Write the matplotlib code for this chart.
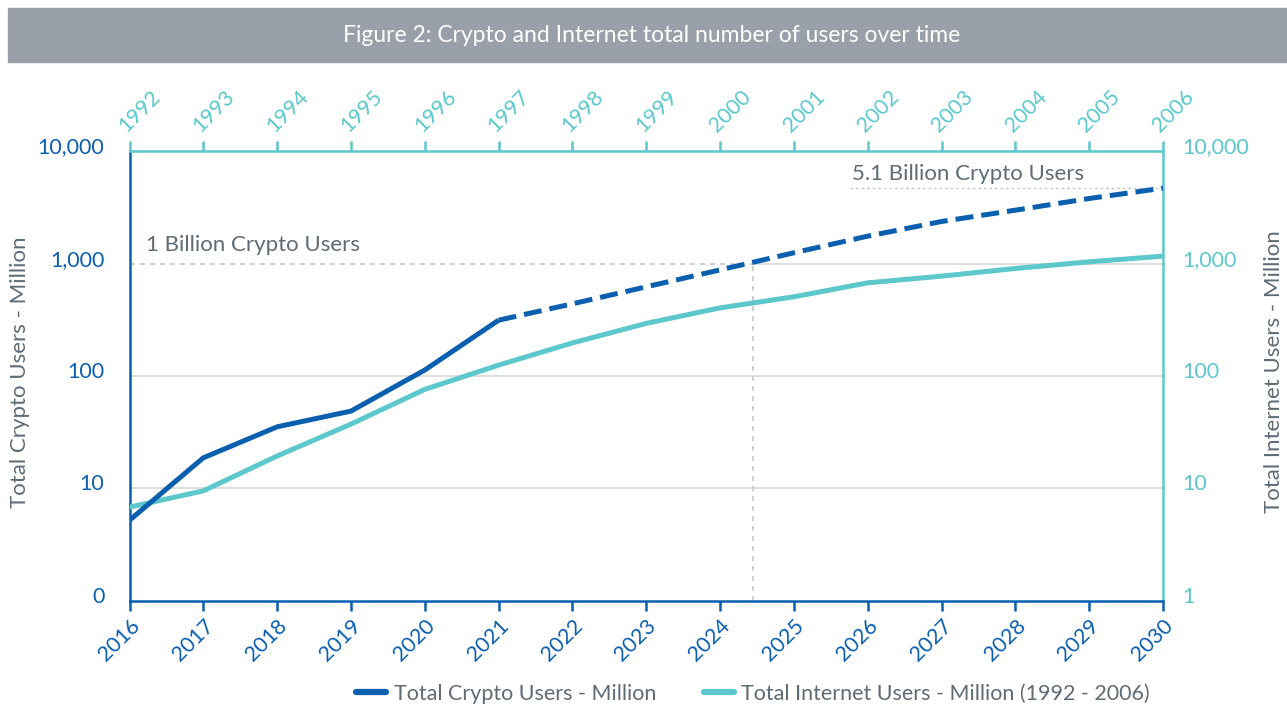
import numpy as np
import matplotlib.pyplot as plt
from matplotlib.patches import Rectangle
from matplotlib.lines import Line2D
import matplotlib.transforms as mtransforms

# ============================================================
# DATA
# ============================================================

years = [2016, 2017, 2018, 2019, 2020, 2021, 2022, 2023, 2024, 2025, 2026, 2027, 2028, 2029, 2030]
internet_years = [1992, 1993, 1994, 1995, 1996, 1997, 1998, 1999, 2000, 2001, 2002, 2003, 2004, 2005, 2006]

crypto_actual_years = [2016, 2017, 2018, 2019, 2020, 2021]
crypto_actual = [5.2, 18.7, 35.3, 48.7, 113, 314]

crypto_proj_years = [2021, 2022, 2023, 2024, 2025, 2026, 2027, 2028, 2029, 2030]
crypto_proj = [314, 439, 622, 880, 1250, 1757, 2373, 2993, 3800, 4700]

# internet users 1992-2006, drawn against the 2016-2030 positions
internet_users = [6.8, 9.5, 19.4, 37.3, 76, 125, 197, 294, 404, 507, 675, 774, 906, 1038, 1167]

y_ticks = [1, 10, 100, 1000, 10000]
left_labels = ["0", "10", "100", "1,000", "10,000"]
right_labels = ["1", "10", "100", "1,000", "10,000"]

billion_year = 2024.45      # where the projection passes 1 billion
label_5b_start = 2025.76

# ============================================================
# STYLE
# ============================================================

BLUE = "#0B5FAF"
TEAL = "#5CC8CC"
GREY_TXT = "#5F6B75"
GRID = "#D9D9D9"
TICK_FS = 15.5
TEXT_FS = 16
plt.rcParams["font.family"] = ["Lato", "DejaVu Sans"]

fig = plt.figure(figsize=(12.87, 7.07), dpi=100)

# title banner
fig.patches.append(Rectangle((8 / 1287, 1 - 62 / 707), 1 - 8 / 1287, 54 / 707,
                             transform=fig.transFigure, color="#9AA0A9", zorder=0))
fig.text(652 / 1287, 1 - 36 / 707, "Figure 2: Crypto and Internet total number of users over time",
         color="white", fontsize=16.5, ha="center", va="center")

ax = fig.add_axes([129.5 / 1287, 1 - 600.7 / 707, (1163 - 129.5) / 1287, (600.7 - 151.3) / 707])
ax.set_yscale("log")
ax.set_xlim(2016, 2030)
ax.set_ylim(1, 10000)

# gridlines
for v in [10, 100]:
    ax.axhline(v, color=GRID, lw=1.2, zorder=1)
ax.plot([billion_year, 2030], [1000, 1000], color=GRID, lw=1.2, zorder=1)
ax.plot([2016, billion_year], [1000, 1000], color="#C8C8C8", lw=1.2, ls=(0, (3, 3)), zorder=1)
ax.plot([billion_year, billion_year], [1, 1000], color="#C8C8C8", lw=1.2, ls=(0, (3, 3)), zorder=1)
ax.plot([label_5b_start, 2030], [crypto_proj[-1], crypto_proj[-1]], color="#C8C8C8", lw=1.0,
        ls=(0, (2, 2)), zorder=1)

ax.text(2016.22, 1000 * 1.2, "1 Billion Crypto Users", color=GREY_TXT, fontsize=TEXT_FS, va="bottom")
ax.text(label_5b_start + 0.03, crypto_proj[-1] * 1.08, "5.1 Billion Crypto Users", color=GREY_TXT,
        fontsize=TEXT_FS, va="bottom")

# lines
ax.plot(years, internet_users, color=TEAL, lw=3.6, solid_capstyle="butt", zorder=3)
ax.plot(crypto_actual_years, crypto_actual, color=BLUE, lw=3.6, solid_capstyle="butt", zorder=4)
ax.plot(crypto_proj_years, crypto_proj, color=BLUE, lw=3.6, dashes=(3.6, 1.6), zorder=4)

# spines
for s in ["left", "bottom"]:
    ax.spines[s].set_color(BLUE)
    ax.spines[s].set_linewidth(1.8)
for s in ["top", "right"]:
    ax.spines[s].set_color(TEAL)
    ax.spines[s].set_linewidth(1.8)

up = mtransforms.ScaledTranslation(0, 0.06, fig.dpi_scale_trans)

# left axis
ax.set_yticks(y_ticks)
ax.set_yticklabels(left_labels)
ax.yaxis.set_minor_locator(plt.NullLocator())
ax.tick_params(axis="y", length=0, pad=18, labelsize=TICK_FS, labelcolor=BLUE)
for lab in ax.get_yticklabels():
    lab.set_transform(lab.get_transform() + up)
fig.text(20 / 1287, 1 - 372 / 707, "Total Crypto Users - Million", color=GREY_TXT, fontsize=TEXT_FS,
         rotation=90, ha="center", va="center")

# bottom axis
ax.set_xticks(years)
ax.set_xticklabels([str(y) for y in years], rotation=45, ha="right", rotation_mode="anchor")
ax.tick_params(axis="x", length=7, width=1.8, color=BLUE, labelcolor=BLUE, labelsize=TICK_FS, pad=4)

# right axis
axr = ax.twinx()
axr.set_yscale("log")
axr.set_ylim(1, 10000)
axr.set_yticks(y_ticks)
axr.set_yticklabels(right_labels)
axr.yaxis.set_minor_locator(plt.NullLocator())
axr.tick_params(axis="y", length=0, pad=14, labelsize=TICK_FS, labelcolor=TEAL)
for lab in axr.get_yticklabels():
    lab.set_transform(lab.get_transform() + up)
for s in axr.spines.values():
    s.set_visible(False)
fig.text(1274 / 1287, 1 - 372 / 707, "Total Internet Users - Million", color=GREY_TXT, fontsize=TEXT_FS,
         rotation=90, ha="center", va="center")

# top axis
axt = ax.twiny()
axt.set_xlim(1992, 2006)
axt.set_xticks(internet_years)
axt.set_xticklabels([str(y) for y in internet_years], rotation=45, ha="left", rotation_mode="anchor")
axt.tick_params(axis="x", length=7, width=1.8, color=TEAL, labelcolor=TEAL, labelsize=TICK_FS, pad=4)
for s in axt.spines.values():
    s.set_visible(False)

# legend
handles = [Line2D([], [], color=BLUE, lw=4.5, solid_capstyle="round"),
           Line2D([], [], color=TEAL, lw=4.5, solid_capstyle="round")]
fig.legend(handles, ["Total Crypto Users - Million", "Total Internet Users - Million (1992 - 2006)"],
           loc="center", bbox_to_anchor=(753 / 1287, 1 - 694 / 707), ncol=2, frameon=False,
           fontsize=15.5, labelcolor=GREY_TXT, handlelength=1.4, handletextpad=0.35,
           columnspacing=2.2)

fig.savefig("out.png", dpi=100)
